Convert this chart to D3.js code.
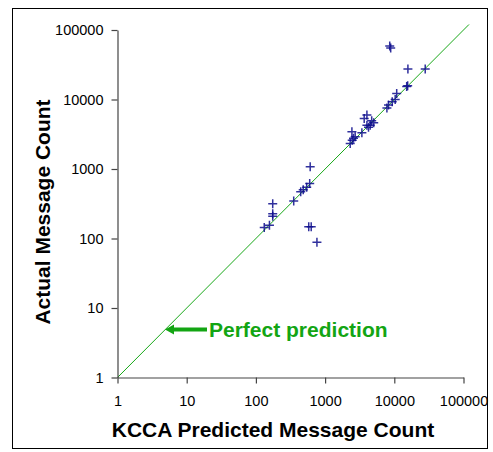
<!DOCTYPE html>
<html><head><meta charset="utf-8">
<script src="https://cdn.jsdelivr.net/npm/d3@7"></script>
<style>body{margin:0;background:#fff}svg{display:block}</style>
</head><body><svg id="c" width="493" height="452"></svg>
<script>
const predicted = [132,157,175,175,175,352,444,483,542,599,609,580,630,762,
  2305,2465,2573,2440,2722,3400,4020,3673,4713,5040,4487,4020,4240,7820,8250,9330,10300,10830,15100,15600,15730,27980,8590,8870];
const actual = [144,155,316,227,209,347,471,503,547,618,1080,147,147,88,
  2330,2600,2780,3445,2900,3336,5960,5310,4966,4647,4276,4276,4000,7520,8300,9270,9970,12240,15340,15800,27400,27400,58800,55000];
const tickValues = [1,10,100,1000,10000,100000];
const tickLabels = ["1","10","100","1000","10000","100000"];
const xTitle = "KCCA Predicted Message Count";
const yTitle = "Actual Message Count";
const annotation = "Perfect prediction";
const lineExtent = [1,120000];

const svg = d3.select("#c");
const font = "'Liberation Sans', Arial, Helvetica, sans-serif";
svg.append("rect").attr("x",12.5).attr("y",8.5).attr("width",475).attr("height",440)
  .attr("fill","none").attr("stroke","#000").attr("stroke-width",1);

const x = d3.scaleLog().domain([1,100000]).range([117.5,463.5]);
const y = d3.scaleLog().domain([1,100000]).range([377.5,30]);

// diagonal
svg.append("line").attr("x1",x(lineExtent[0])).attr("y1",y(lineExtent[0]))
  .attr("x2",x(lineExtent[1])).attr("y2",y(lineExtent[1]))
  .attr("stroke","#18a818").attr("stroke-width",1);

const xa = svg.append("g").attr("transform",`translate(0,${y(1)})`)
  .call(d3.axisBottom(x).tickValues(tickValues).tickFormat((d,i)=>tickLabels[i]).tickSize(6).tickSizeOuter(0).tickPadding(12));
const ya = svg.append("g").attr("transform",`translate(${x(1)},0)`)
  .call(d3.axisLeft(y).tickValues(tickValues).tickFormat((d,i)=>tickLabels[i]).tickSize(6).tickSizeOuter(0).tickPadding(8));
[xa,ya].forEach(a=>{
  a.selectAll("path,line").attr("stroke","#444").attr("stroke-width",1.2);
  a.selectAll("text").attr("font-family",font).attr("font-size","14.5px").attr("fill","#000");
});

// points
const arm = 4.5;
const g = svg.append("g").attr("stroke","#0c0c8c").attr("stroke-width",1.5).attr("stroke-opacity",0.85);
predicted.forEach((p,i)=>{
  const cx = x(p), cy = y(actual[i]);
  g.append("path").attr("d",`M${cx-arm},${cy}H${cx+arm}M${cx},${cy-arm}V${cy+arm}`);
});

// annotation arrow
const ay = 329.5;
svg.append("rect").attr("x",172).attr("y",ay-2).attr("width",35).attr("height",4).attr("fill","#13a513");
svg.append("path").attr("d",`M165,${ay}L174,${ay-5}L174,${ay+5}Z`).attr("fill","#13a513");
svg.append("text").attr("x",209).attr("y",337).attr("font-family",font).attr("font-weight","bold")
  .attr("font-size","21px").attr("fill","#13a513").text(annotation);

// titles
svg.append("text").attr("x",273).attr("y",437).attr("text-anchor","middle").attr("font-family",font)
  .attr("font-weight","bold").attr("font-size","21px").text(xTitle);
svg.append("text").attr("transform","translate(50,212) rotate(-90)").attr("text-anchor","middle").attr("font-family",font)
  .attr("font-weight","bold").attr("font-size","21px").text(yTitle);
</script></body></html>
